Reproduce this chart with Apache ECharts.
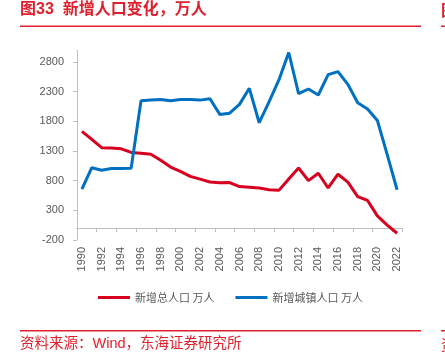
<!DOCTYPE html>
<html>
<head>
<meta charset="utf-8">
<style>
  html, body { margin: 0; padding: 0; background: #fff; }
  #chart { width: 445px; height: 354px; }
</style>
<script src="https://cdn.jsdelivr.net/npm/echarts@6/dist/echarts.min.js"></script>
</head>
<body>
<div id="chart"></div>
<script>
// 年份 1990-2022
const years = [];
for (let y = 1990; y <= 2022; y++) years.push(String(y));

// 新增总人口（万人）
const totalIncrease = [1630, 1495, 1355, 1350, 1335, 1275, 1262, 1245, 1142, 1028, 956, 872, 826, 776, 764, 768, 700, 690, 674, 648, 636, 826, 1012, 800, 924, 676, 908, 776, 532, 466, 206, 52, -86];
// 新增城镇人口（万人）
const urbanIncrease = [657, 1018, 975, 1005, 1006, 1010, 2145, 2157, 2168, 2146, 2166, 2166, 2156, 2178, 1915, 1935, 2084, 2355, 1775, 2128, 2495, 2958, 2264, 2343, 2242, 2586, 2636, 2422, 2112, 2005, 1813, 1238, 646];

const yTicks = { min: -200, max: 3000, interval: 500 };

const red = '#D7001F';
const blue = '#0070C0';
const gray = '#595959';
const latin = '"Liberation Sans", Arial, sans-serif';

const chart = echarts.init(document.getElementById('chart'));

const option = {
  backgroundColor: '#fff',
  animation: false,
  textStyle: { fontFamily: '"Noto Sans CJK SC", "Liberation Sans", sans-serif' },
  grid: { left: 77, right: 43, top: 50, bottom: 114 },
  graphic: [
    {
      type: 'text', left: 20, top: 2,
      style: { text: '图33  新增人口变化，万人', fill: '#E0202E', font: 'bold 16px "Liberation Sans", "Noto Sans CJK SC"' }
    },
    { type: 'rect', shape: { x: 20, y: 25.5, width: 401, height: 1.5 }, style: { fill: '#E0202E' } },
    { type: 'rect', shape: { x: 441, y: 25.5, width: 4, height: 1.5 }, style: { fill: '#E0202E' } },
    {
      type: 'text', left: 441, top: 2,
      style: { text: '图', fill: '#E0202E', font: 'bold 16px "Noto Sans CJK SC"' }
    },
    { type: 'rect', shape: { x: 20, y: 330, width: 401, height: 1.5 }, style: { fill: '#E0202E' } },
    { type: 'rect', shape: { x: 441, y: 330, width: 4, height: 1.5 }, style: { fill: '#E0202E' } },
    {
      type: 'text', left: 20, top: 337,
      style: { text: '资料来源：Wind，东海证券研究所', fill: '#E0202E', font: '14.5px "Liberation Sans", "Noto Sans CJK SC"' }
    },
    {
      type: 'text', left: 441, top: 337,
      style: { text: '资', fill: '#E0202E', font: '14.5px "Noto Sans CJK SC"' }
    }
  ],
  legend: {
    left: 93,
    top: 287,
    icon: 'rect',
    itemWidth: 32,
    itemHeight: 3,
    itemGap: 21,
    textStyle: { color: gray, fontSize: 11 },
    data: ['新增总人口 万人', '新增城镇人口 万人']
  },
  xAxis: {
    type: 'category',
    data: years,
    boundaryGap: true,
    axisLine: { lineStyle: { color: '#BFBFBF' } },
    axisTick: { show: true, interval: 1, length: 4, lineStyle: { color: '#BFBFBF' } },
    axisLabel: { interval: 1, rotate: 90, color: gray, fontSize: 11, margin: 7, fontFamily: latin },
    splitLine: { show: false }
  },
  yAxis: {
    type: 'value',
    min: yTicks.min,
    max: yTicks.max,
    interval: yTicks.interval,
    axisLine: { show: true, lineStyle: { color: '#BFBFBF' } },
    axisTick: { show: true, length: 4, lineStyle: { color: '#BFBFBF' } },
    axisLabel: {
      color: gray, fontSize: 11, margin: 13, showMaxLabel: false, fontFamily: latin,
      formatter: v => String(v)
    },
    splitLine: { show: false }
  },
  series: [
    {
      name: '新增总人口 万人',
      type: 'line',
      data: totalIncrease,
      symbol: 'none',
      lineStyle: { color: red, width: 3 },
      itemStyle: { color: red }
    },
    {
      name: '新增城镇人口 万人',
      type: 'line',
      data: urbanIncrease,
      symbol: 'none',
      lineStyle: { color: blue, width: 3 },
      itemStyle: { color: blue }
    }
  ]
};

chart.setOption(option);
</script>
</body>
</html>
